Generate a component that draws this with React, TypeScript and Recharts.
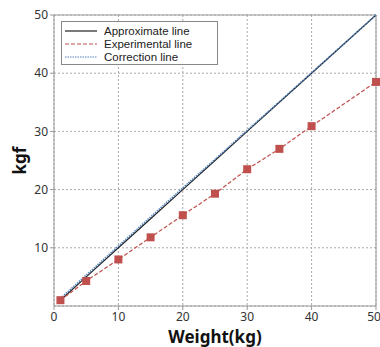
import React from 'react';
import { ComposedChart, Line, XAxis, YAxis, CartesianGrid, Legend, ReferenceLine } from 'recharts';

const weights = [1, 5, 10, 15, 20, 25, 30, 35, 40, 50];
const approximate = [1, 5, 10, 15, 20, 25, 30, 35, 40, 50];
const experimental = [1.0, 4.3, 8.0, 11.8, 15.6, 19.3, 23.5, 27.0, 30.9, 38.5];
const correction = [1.3, 5.3, 10.3, 15.3, 20.3, 25.2, 30.2, 35.1, 40.1, 50];
const xTicks = [0, 10, 20, 30, 40, 50];
const yTicks = [10, 20, 30, 40, 50];

const data = weights.map((w, i) => ({
  w,
  approx: approximate[i],
  exp: experimental[i],
  corr: correction[i],
}));

const FONT = '"Noto Sans", "Open Sans", sans-serif';
const LEGEND_FONT = '"Liberation Sans", Arial, sans-serif';

const Square = (props: any) => {
  const { cx, cy } = props;
  if (cx == null || cy == null) return null;
  return <rect x={cx - 4} y={cy - 4} width={8} height={8} fill="#c0504d" />;
};

const legendItems = [
  { label: 'Approximate line', color: '#222', dash: undefined, w: 1.2 },
  { label: 'Experimental line', color: '#c0504d', dash: '4 2', w: 1.2 },
  { label: 'Correction line', color: '#4f81bd', dash: '1.5 1', w: 1.2 },
];

const LegendBox = () => (
  <div
    style={{
      border: '1px solid #888',
      background: '#fff',
      width: 157,
      height: 44,
      boxSizing: 'border-box',
      padding: '2px 0 0 3px',
      fontFamily: LEGEND_FONT,
      fontSize: 11.5,
      color: '#222',
    }}
  >
    {legendItems.map((it) => (
      <div key={it.label} style={{ display: 'flex', alignItems: 'center', height: 13.3 }}>
        <svg width={32} height={6} style={{ marginRight: 7, flex: 'none' }}>
          <line x1={0} y1={3} x2={32} y2={3} stroke={it.color} strokeWidth={it.w} strokeDasharray={it.dash} />
        </svg>
        <div style={{ height: 12, lineHeight: '12px', whiteSpace: 'nowrap' }}>{it.label}</div>
      </div>
    ))}
  </div>
);

export default function App() {
  return (
    <div style={{ position: 'absolute', left: 0, top: 0, width: 380, height: 347, background: '#fff' }}>
      <ComposedChart
        width={380}
        height={347}
        data={data}
        margin={{ top: 15, right: 4, left: 0, bottom: 0 }}
      >
        <CartesianGrid stroke="#aaa" strokeDasharray="2 2" />
        <XAxis
          dataKey="w"
          type="number"
          domain={[0, 50]}
          ticks={xTicks}
          height={41}
          stroke="#999"
          tickSize={4}
          tick={{ fill: '#333', fontSize: 12, fontFamily: FONT }}
          label={{
            value: 'Weight(kg)',
            position: 'insideBottom',
            offset: 4,
            style: { fill: '#111', fontSize: 17, fontWeight: 'bold', fontFamily: FONT },
          }}
        />
        <YAxis
          type="number"
          domain={[0, 50]}
          ticks={yTicks}
          width={54}
          stroke="#999"
          tickSize={4}
          tick={{ fill: '#333', fontSize: 12, fontFamily: FONT }}
          label={{
            value: 'kgf',
            angle: -90,
            position: 'insideLeft',
            offset: 20,
            style: { fill: '#111', fontSize: 17, fontWeight: 'bold', fontFamily: FONT, textAnchor: 'middle' },
          }}
        />
        <ReferenceLine y={50} stroke="#999" />
        <ReferenceLine x={50} stroke="#999" />
        <Line
          dataKey="approx"
          stroke="#222"
          strokeWidth={1.2}
          dot={false}
          isAnimationActive={false}
        />
        <Line
          dataKey="corr"
          stroke="#4f81bd"
          strokeWidth={1.5}
          strokeDasharray="1.5 1"
          dot={false}
          isAnimationActive={false}
        />
        <Line
          dataKey="exp"
          stroke="#c0504d"
          strokeWidth={1.2}
          strokeDasharray="4 2"
          dot={<Square />}
          isAnimationActive={false}
        />
        <Legend
          layout="vertical"
          align="center"
          verticalAlign="middle"
          content={() => <LegendBox />}
          wrapperStyle={{ top: 21, left: 61, width: 157 }}
        />
      </ComposedChart>
    </div>
  );
}
